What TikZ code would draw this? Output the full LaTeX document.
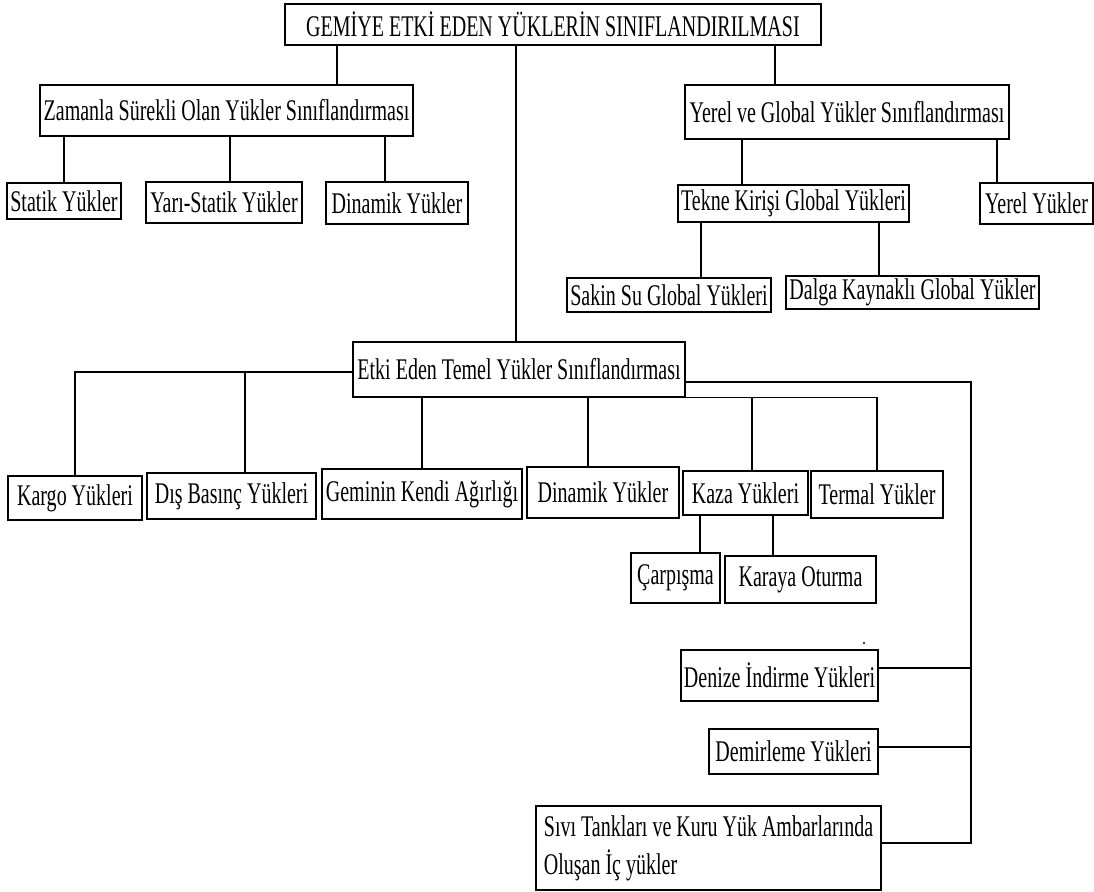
\documentclass[tikz,border=0pt]{standalone}
\usepackage{fontspec}
\setmainfont[FakeStretch=0.667]{Liberation Serif}
\usetikzlibrary{positioning}

\begin{document}
\begin{tikzpicture}[x=0.5pt, y=-0.5pt, line width=0.75pt,
  kutu/.style 2 args={draw, inner sep=0pt, minimum width=#1*0.5pt, minimum height=#2*0.5pt,
    font=\fontsize{15}{19}\selectfont}]

\useasboundingbox (0,0) rectangle (1094,892);

% Define nodes
\node[kutu={536}{41}] (kok) at (553,24.5) {GEMİYE ETKİ EDEN YÜKLERİN SINIFLANDIRILMASI};

\node[kutu={373}{51}] (zaman) at (226.5,110.5) {Zamanla Sürekli Olan Yükler Sınıflandırması};
\node[kutu={324}{54}] (yerel) at (847,112) {Yerel ve Global Yükler Sınıflandırması};

\node[kutu={114}{36}] (statik) at (64,201) {Statik Yükler};
\node[kutu={156}{41}] (yari) at (224,202.5) {Yarı-Statik Yükler};
\node[kutu={142}{42}] (dinamik) at (397,203) {Dinamik Yükler};

\node[kutu={231}{37}] (tekne) at (793.5,203.5) {Tekne Kirişi Global Yükleri};
\node[kutu={113}{41}] (yerelyuk) at (1036.5,203.5) {Yerel Yükler};
\node[kutu={204}{34}] (sakin) at (669,295) {Sakin Su Global Yükleri};
\node[kutu={253}{33}] (dalga) at (912.5,292.5) {Dalga Kaynaklı Global Yükler};

\node[kutu={332}{55}] (etki) at (519,369.5) {Etki Eden Temel Yükler Sınıflandırması};

\node[kutu={134}{44}] (kargo) at (75,498) {Kargo Yükleri};
\node[kutu={169}{46}] (dis) at (231.5,496) {Dış Basınç Yükleri};
\node[kutu={200}{50}] (geminin) at (422,494) {Geminin Kendi Ağırlığı};
\node[kutu={152}{51}] (dinamik2) at (603,492.5) {Dinamik Yükler};
\node[kutu={125}{44}] (kaza) at (745.5,493) {Kaza Yükleri};
\node[kutu={132}{47}] (termal) at (877,494.5) {Termal Yükler};

\node[kutu={89}{50}] (carpisma) at (675.5,578) {Çarpışma};
\node[kutu={151}{47}] (karaya) at (800.5,579.5) {Karaya Oturma};

\node[kutu={197}{51}] (denize) at (779.5,675.5) {Denize İndirme Yükleri};
\node[kutu={169}{45}] (demir) at (793.5,751.5) {Demirleme Yükleri};
\node[kutu={345}{84}, align=left] (sivi) at (708.5,848)
  {Sıvı Tankları ve Kuru Yük Ambarlarında\\Oluşan İç yükler};

% Draw connectors from the top box
\draw (kok.south -| 337,0) -- (zaman.north -| 337,0);
\draw (kok.south -| 775,0) -- (yerel.north -| 775,0);
\draw (kok.south -| 516,0) -- (etki.north -| 516,0);

% Time-dependent loads
\draw (zaman.south -| 64,0) -- (statik.north -| 64,0);
\draw (zaman.south -| 230,0) -- (yari.north -| 230,0);
\draw (zaman.south -| 385,0) -- (dinamik.north -| 385,0);

% Local and global loads
\draw (yerel.south -| 742,0) -- (tekne.north -| 742,0);
\draw (yerel.south -| 997,0) -- (yerelyuk.north -| 997,0);
\draw (tekne.south -| 701,0) -- (sakin.north -| 701,0);
\draw (tekne.south -| 879,0) -- (dalga.north -| 879,0);

% Basic loads, left side
\draw (etki.west |- 0,372) -| (kargo.north);
\draw (etki.west -| 245,0) ++(0,2.5) -- (dis.north -| 245,0);
\draw (etki.south -| geminin.north) -- (geminin.north);

% Basic loads, along the bottom edge
\draw (etki.south east) -| (termal.north);
\draw (etki.south -| 588,0) -- (dinamik2.north -| 588,0);
\draw (etki.south -| 752,0) -- (kaza.north -| 752,0);
\draw (kaza.south -| 700,0) -- (carpisma.north -| 700,0);
\draw (kaza.south -| 773,0) -- (karaya.north -| 773,0);

% Right-hand bus
\coordinate (bus) at (971,382);
\draw (etki.east |- bus) -- (bus) -- (bus |- 0,843) -- (sivi.east |- 0,843);
\draw (denize.east |- 0,668) -- (bus |- 0,668);
\draw (demir.east |- 0,747) -- (bus |- 0,747);

\fill (864,643) circle (1.2);

\end{tikzpicture}
\end{document}
